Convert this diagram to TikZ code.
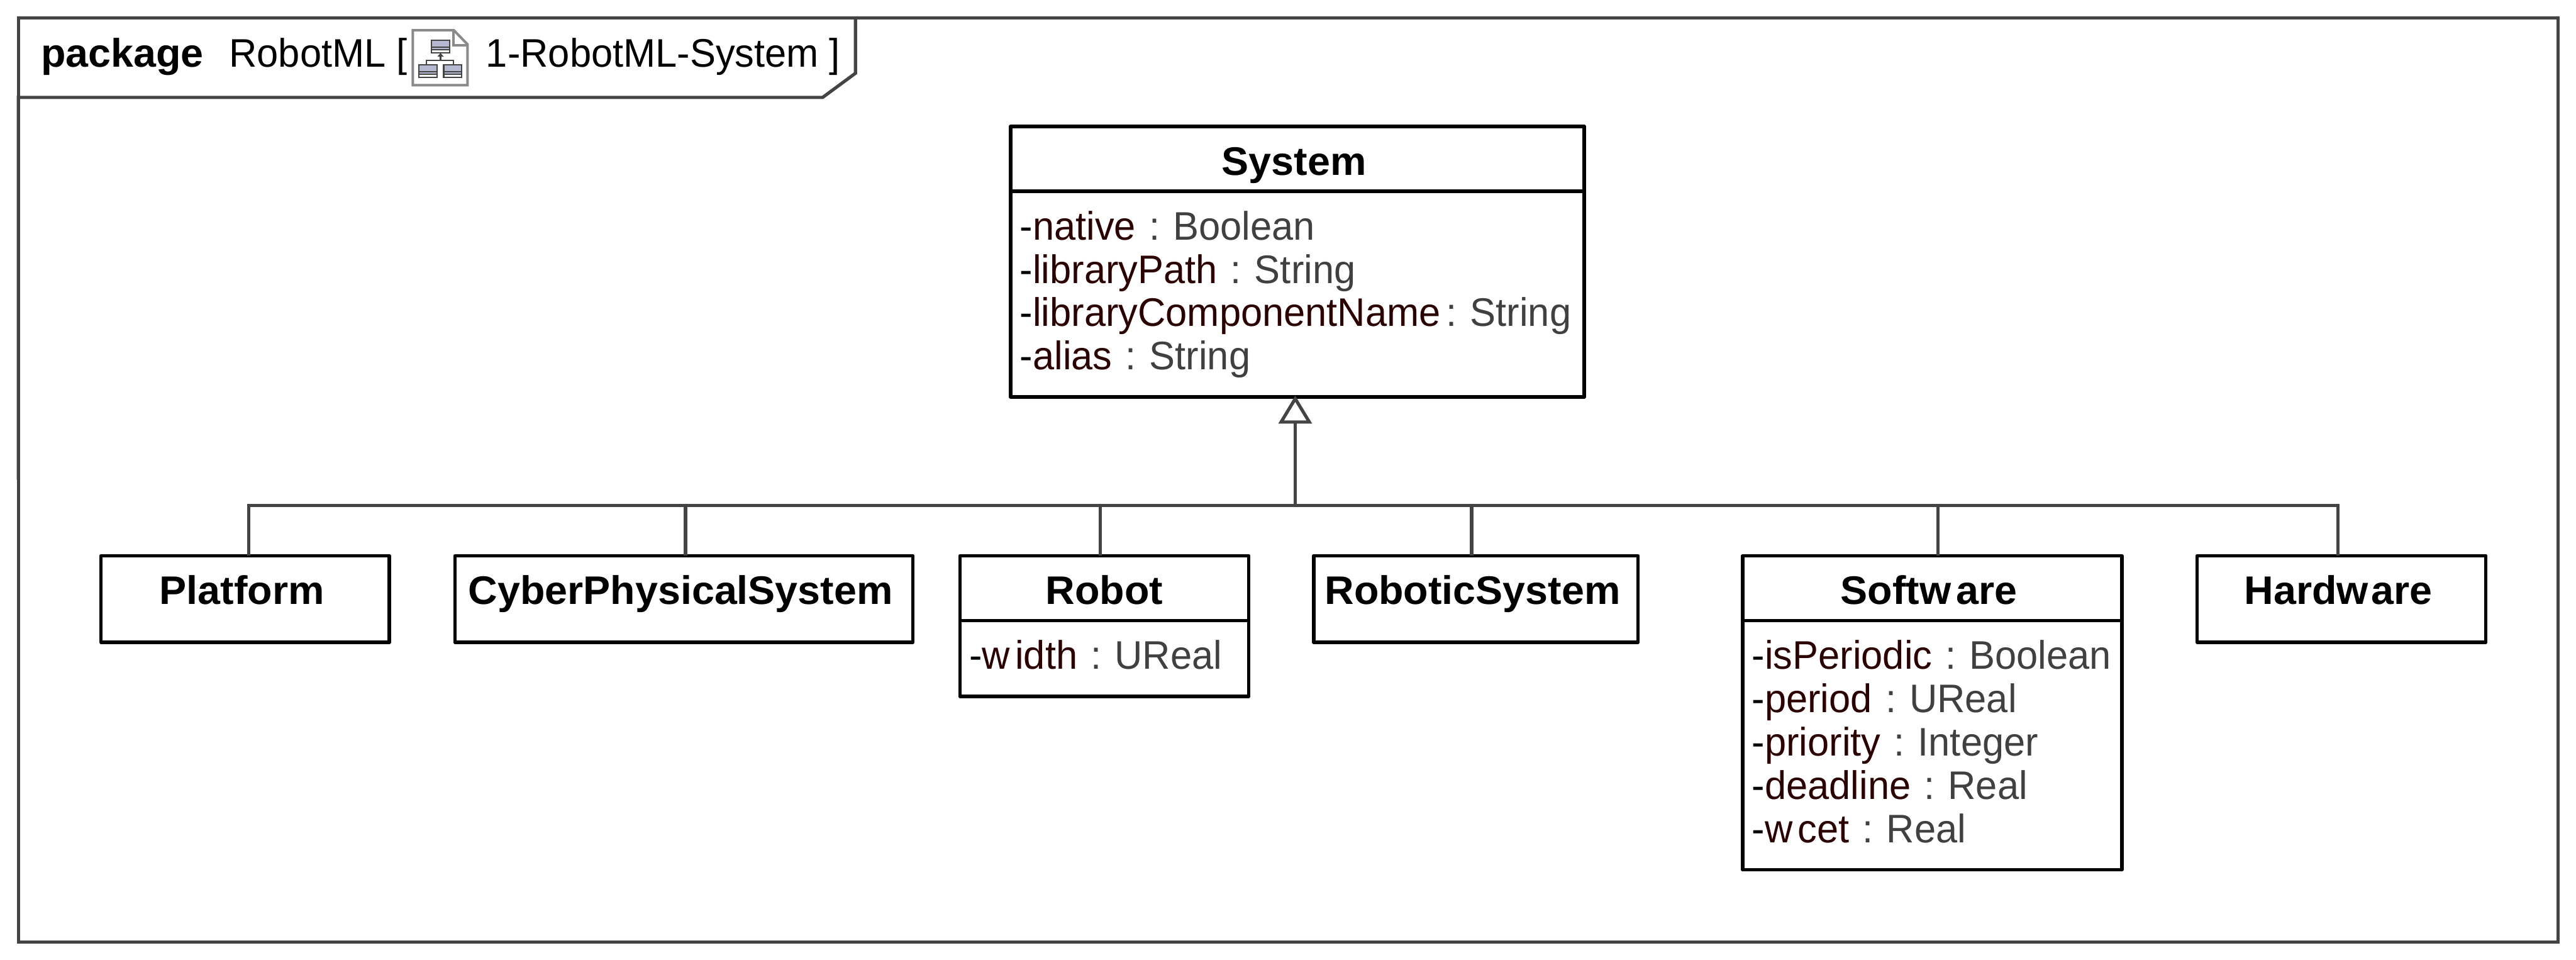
\documentclass[tikz,border=0pt]{standalone}
\usepackage{fontspec}
\setmainfont[FakeStretch=0.97,BoldFeatures={FakeStretch=1.02}]{Liberation Sans}
\usetikzlibrary{positioning,arrows.meta}

\definecolor{linegray}{HTML}{444444}
\definecolor{attrname}{HTML}{2B0000}
\definecolor{typegray}{HTML}{404040}
\definecolor{icongray}{HTML}{8A8A8A}
\definecolor{iconfill}{HTML}{B4B8D0}

\newcommand{\attrstrut}{\rule[-0.15cm]{0pt}{0.595cm}}
\newcommand{\attr}[2]{\mbox{\attrstrut-{\color{attrname}#1} {\color{typegray}: #2}}}

\begin{document}
\begin{tikzpicture}[
  every node/.style={font=\fontsize{15.7}{17.07}\selectfont\frenchspacing},
  frame/.style={rectangle, draw=linegray, line width=0.045cm, fill=white, outer sep=0pt},
  conn/.style={draw=linegray, line width=0.045cm},
  classbox/.style={rectangle, draw=black, line width=0.048cm, line join=round, fill=white, outer sep=0pt, inner ysep=0pt, align=center, font=\fontsize{15.7}{17.07}\selectfont\bfseries, text height=0.675cm, execute at end node={\kern0.09cm}},
  plainclass/.style={classbox, minimum width=#1, text depth=0.525cm},
  headclass/.style={classbox, minimum width=#1, text depth=0.225cm},
  attrbox/.style={rectangle, draw=black, line width=0.048cm, line join=round, fill=white, outer sep=0pt, inner xsep=0.13cm, inner ysep=0.2275cm, align=left, text width=#1},
  label/.style={anchor=base west, inner sep=0pt}]

  \useasboundingbox (0,0) rectangle (35.7,-13.3);

  % Package frame
  \node[frame, minimum width=35.195cm, minimum height=12.8cm] (pkg) at (17.8525,-6.65) {};
  \draw[conn] ([xshift=11.6cm]pkg.north west) -- ++(0,-0.765) -- ++(-0.455,-0.335) -| (pkg.west);
  \node[label] (kind) at (0.56,-0.925) {\bfseries package};
  \node[label] (name) at (3.17,-0.925) {RobotML [};
  \node[label] (diagram) at (6.73,-0.925) {1-RobotML-System ]};

  % Diagram icon
  \begin{scope}[shift={(5.72,-0.42)}]
    \draw[icongray, line width=0.035cm, fill=white] (0,0) -- (0.57,0) -- (0.76,-0.195) -- (0.76,-0.76) -- (0,-0.76) -- cycle;
    \draw[icongray, line width=0.035cm] (0.56,0) -- (0.56,-0.205) -- (0.76,-0.205);
    \foreach \bx/\by in {0.26/-0.14, 0.085/-0.48, 0.43/-0.48} {
      \draw[linegray, line width=0.02cm, fill=iconfill] (\bx,\by) rectangle ++(0.25,-0.175);
      \fill[white] (\bx+0.01,\by-0.13) rectangle ++(0.23,-0.035);
      \draw[linegray, line width=0.012cm] (\bx,\by-0.095) -- ++(0.25,0) (\bx,\by-0.13) -- ++(0.25,0);
    }
    \draw[linegray, line width=0.02cm] (0.385,-0.36) -- (0.385,-0.415) (0.19,-0.475) |- (0.565,-0.415) -- (0.565,-0.475);
    \fill[linegray] (0.385,-0.315) -- (0.34,-0.365) -- (0.43,-0.365) -- cycle;
  \end{scope}

  % Parent class
  \node[headclass=7.95cm, anchor=north west] (system) at (14.005,-1.75) {System};
  \node[attrbox=7.69cm, below=0pt of system] (systemattrs) {\attr{native}{Boolean}\\\attr{libraryPath}{String}\\\attr{libraryComponentName\kern-3pt}{String}\\\attr{alias}{String}};

  % Child classes
  \node[plainclass=3.995cm, anchor=north west] (platform) at (1.40,-7.70) {Platform};
  \node[plainclass=6.345cm, right=0.91cm of platform.north east, anchor=north west] (cyber) {CyberPhysicalSystem};
  \node[headclass=4cm, right=0.655cm of cyber.north east, anchor=north west] (robot) {Robot\kern-0.09cm};
  \node[attrbox=3.74cm, below=0pt of robot] (robotattrs) {\attr{w\kern2pt idth}{UReal}};
  \node[plainclass=4.495cm, right=0.90cm of robot.north east, anchor=north west] (robotic) {RoboticSystem};
  \node[headclass=5.255cm, right=1.45cm of robotic.north east, anchor=north west] (software) {Softw\kern2pt are};
  \node[attrbox=4.995cm, below=0pt of software] (softwareattrs) {\attr{isPeriodic}{Boolean}\\\attr{period}{UReal}\\\attr{priority}{Integer}\\\attr{deadline}{Real}\\\attr{w\kern2pt cet}{Real}};
  \node[plainclass=4cm, right=1.045cm of software.north east, anchor=north west] (hardware) {Hardw\kern1pt are};

  % Generalization tree
  \coordinate (bus) at (17.95,-7);
  \foreach \cls/\off in {platform/0.0525, cyber/0.0225, robot/-0.055, robotic/-0.0575, software/0.0775, hardware/-0.05} {
    \draw[conn] ([xshift=\off cm]\cls.north) |- (bus);
  }
  \draw[conn, -{Triangle[open, fill=white, length=0.39cm, width=0.46cm]}] (bus) -- ([yshift=0.02cm]bus |- systemattrs.south);
\end{tikzpicture}
\end{document}
